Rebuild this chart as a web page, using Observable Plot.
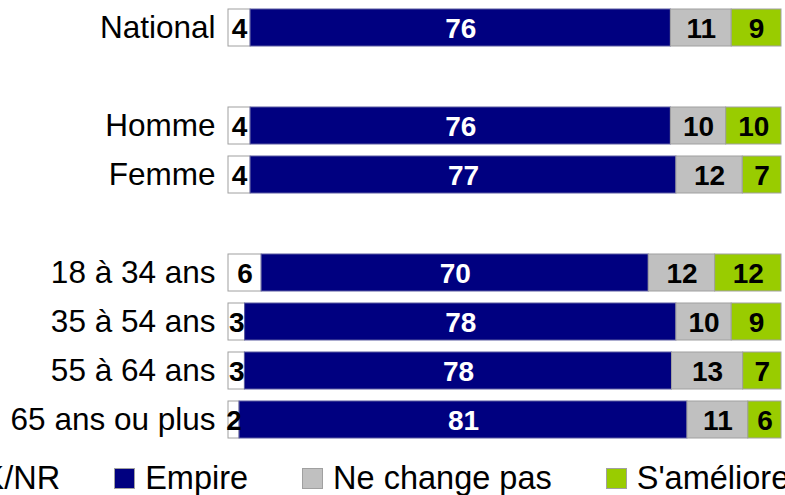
<!DOCTYPE html>
<html>
<head>
<meta charset="utf-8">
<script src="https://cdn.jsdelivr.net/npm/d3@7"></script>
<script src="https://cdn.jsdelivr.net/npm/@observablehq/plot@0.6"></script>
<style>
  body { margin: 0; background: #fff; font-family: "Liberation Sans", Arial, sans-serif; }
  #chart { width: 785px; }
  #wrap { width: 785px; height: 45px; overflow: hidden; position: relative; }
  #legend { position: absolute; top: 10px; left: -72px; height: 36px; display: flex; align-items: center; gap: 54px; white-space: nowrap; font-size: 32.5px; color: #000; }
  .item { display: flex; align-items: center; flex: none; }
  .sw { width: 21px; height: 21px; margin-right: 10px; box-sizing: border-box; border: 1px solid #a0a0a0; }
</style>
</head>
<body>
<div id="chart"></div>
<div id="wrap"><div id="legend"></div></div>
<script>
const categories = ["National", " ", "Homme", "Femme", "  ", "18 à 34 ans", "35 à 54 ans", "55 à 64 ans", "65 ans ou plus"];
const series = ["DK/NR", "Empire", "Ne change pas", "S'améliore"];
const colors = ["#ffffff", "#000080", "#c0c0c0", "#99cc00"];
const labelColors = ["#000", "#fff", "#000", "#000"];
const values = {
  "DK/NR":         [4, null, 4, 4, null, 6, 3, 3, 2],
  "Empire":        [76, null, 76, 77, null, 70, 78, 78, 81],
  "Ne change pas": [11, null, 10, 12, null, 12, 10, 13, 11],
  "S'améliore":    [9, null, 10, 7, null, 12, 9, 7, 6]
};

const data = [];
categories.forEach((c, i) => {
  series.forEach(s => {
    const v = values[s][i];
    if (v != null) data.push({category: c, series: s, value: v});
  });
});

const realCats = categories.filter(c => c.trim() !== "");

const chart = Plot.plot({
  width: 785,
  height: 450,
  marginLeft: 228,
  marginRight: 4,
  marginTop: 3,
  marginBottom: 6,
  style: {fontFamily: "'Liberation Sans', Arial, sans-serif", background: "#fff"},
  x: {axis: null, domain: [0, 1]},
  y: {domain: categories, padding: 0, label: null},
  color: {domain: series, range: colors},
  marks: [
    Plot.barX(data, Plot.stackX({
      x: "value", y: "category", fill: "series", offset: "normalize", order: series,
      insetTop: 6, insetBottom: 6,
      stroke: d => d.series === "Empire" ? "#5a5aa0" : "#a0a0a0", strokeWidth: 1
    })),
    Plot.text(data, Plot.stackX({
      x: "value", y: "category", z: "series", offset: "normalize", order: series,
      text: d => String(d.value),
      fill: d => labelColors[series.indexOf(d.series)],
      fontSize: 28, fontWeight: "bold", dy: 1
    })),
    Plot.axisY({ticks: realCats, tickSize: 0, tickPadding: 13, fontSize: 31.5, fill: "#000", label: null})
  ]
});
document.getElementById("chart").appendChild(chart);

const legend = document.getElementById("legend");
series.forEach((s, i) => {
  const item = document.createElement("div");
  item.className = "item";
  const sw = document.createElement("div");
  sw.className = "sw";
  sw.style.background = colors[i];
  const t = document.createElement("span");
  t.textContent = s;
  item.appendChild(sw);
  item.appendChild(t);
  legend.appendChild(item);
});
</script>
</body>
</html>
